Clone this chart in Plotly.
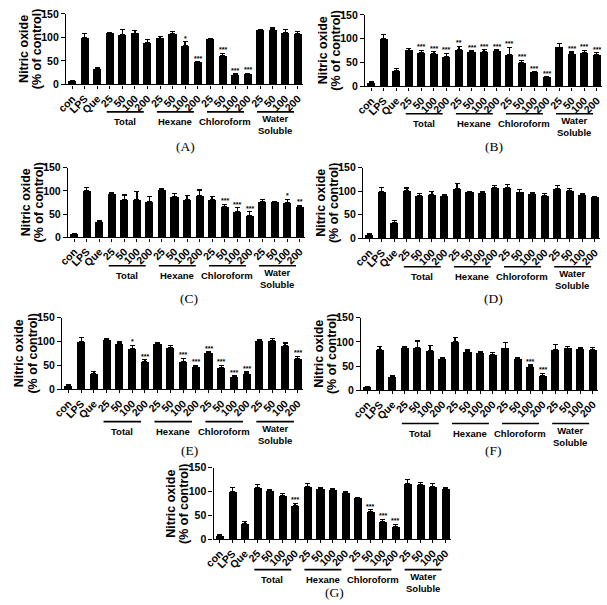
import plotly.graph_objects as go

W, H = 607, 605

categories = ["con", "LPS", "Que"] + ["25", "50", "100", "200"] * 4
groups = ["Total", "Hexane", "Chloroform", "Water<br>Soluble"]
panel_names = ["(A)", "(B)", "(C)", "(D)", "(E)", "(F)", "(G)"]
ytitle_lines = ["Nitric oxide", "(% of control)"]

A_mean = [8, 100, 33, 109, 106, 109, 89, 98, 107, 82, 47, 96, 61, 20, 23, 115, 116, 110, 108]
A_err = [1, 9, 3, 2, 10, 5, 7, 4, 5, 9, 1, 1, 5, 2, 1, 2, 4, 6, 5]
A_sig = ["", "", "", "", "", "", "", "", "", "*", "***", "", "***", "***", "***", "", "", "", ""]

B_mean = [8, 100, 33, 76, 70, 69, 63, 77, 72, 72, 74, 67, 50, 30, 19, 82, 69, 71, 67]
B_err = [1, 9, 4, 4, 6, 4, 6, 7, 2, 5, 3, 15, 5, 1, 1, 8, 3, 5, 4]
B_sig = ["", "", "", "", "***", "***", "***", "**", "***", "***", "***", "***", "***", "***", "***", "", "***", "***", "***"]

C_mean = [8, 100, 33, 94, 81, 82, 76, 102, 87, 82, 90, 82, 66, 56, 47, 76, 77, 74, 67]
C_err = [1, 8, 4, 2, 10, 17, 12, 2, 7, 8, 12, 6, 5, 8, 8, 5, 1, 8, 2]
C_sig = ["", "", "", "", "", "", "", "", "", "", "", "", "***", "***", "***", "", "", "*", "**"]

D_mean = [8, 100, 33, 102, 90, 92, 90, 106, 98, 97, 107, 107, 98, 94, 91, 106, 102, 93, 88]
D_err = [1, 8, 4, 5, 6, 8, 2, 10, 2, 3, 6, 7, 6, 3, 5, 6, 3, 2, 1]
D_sig = [""] * 19

E_mean = [8, 100, 33, 104, 96, 86, 57, 95, 88, 57, 48, 76, 45, 27, 33, 102, 101, 92, 65]
E_err = [1, 8, 4, 3, 3, 6, 5, 2, 4, 8, 2, 2, 5, 1, 3, 2, 5, 5, 4]
E_sig = ["", "", "", "", "", "*", "***", "", "", "***", "***", "***", "***", "***", "***", "", "", "", "***"]

F_mean = [7, 83, 28, 88, 89, 81, 65, 101, 80, 78, 74, 87, 66, 48, 30, 84, 87, 86, 83]
F_err = [1, 8, 3, 2, 13, 12, 2, 8, 3, 2, 4, 12, 2, 4, 5, 10, 3, 3, 5]
F_sig = ["", "", "", "", "", "", "", "", "", "", "", "", "", "***", "***", "", "", "", ""]

G_mean = [8, 100, 33, 109, 101, 92, 71, 111, 106, 103, 97, 87, 57, 37, 27, 116, 115, 111, 106]
G_err = [1, 9, 4, 6, 4, 4, 4, 5, 2, 3, 3, 1, 5, 5, 4, 9, 4, 6, 2]
G_sig = ["", "", "", "", "", "", "***", "", "", "", "", "", "***", "***", "***", "", "", "", ""]

means = [A_mean, B_mean, C_mean, D_mean, E_mean, F_mean, G_mean]
errs = [A_err, B_err, C_err, D_err, E_err, F_err, G_err]
sigs = [A_sig, B_sig, C_sig, D_sig, E_sig, F_sig, G_sig]

# panel geometry in pixels: axis left, axis right, y=150 pixel, y=0 pixel, underline offset, label center x, label y
geom = [
    (57, 298, 8, 80, 28, 178, 143),
    (361, 602, 9, 82, 28, 492, 143),
    (59, 300, 165, 236, 29, 182, 298),
    (359, 600, 165, 237, 29, 492, 298),
    (53, 298, 318, 391, 33, 182, 454),
    (357, 598, 318, 392, 34, 492, 454),
    (207, 448, 471, 544, 31, 330, 598),
]

SANS = "Liberation Sans, Arial, sans-serif"
SERIF = "Liberation Serif, Times New Roman, serif"

def px(x):
    return x / W

def py(y):
    return 1 - y / H

fig = go.Figure()
annotations = []
shapes = []
xs = list(range(len(categories)))

for k in range(7):
    x0, x1, yt, yb, uoff, lx, ly = geom[k]
    sfx = "" if k == 0 else str(k + 1)
    xa = "x" + sfx
    ya = "y" + sfx
    fig.add_trace(go.Bar(
        x=xs, y=means[k], marker=dict(color="black", line=dict(width=0)),
        width=0.64, xaxis=xa, yaxis=ya, showlegend=False,
        error_y=dict(type="data", array=errs[k], arrayminus=[0] * 19, symmetric=False,
                     color="black", thickness=1.2, width=2.5),
    ))
    axis_common = dict(showline=True, linecolor="black", linewidth=1.4, ticks="outside",
                       tickcolor="black", tickwidth=1.2, showgrid=False, zeroline=False)
    fig.layout["xaxis" + sfx] = dict(
        domain=[px(x0), px(x1)], anchor=ya, range=[-0.5, 18.42],
        tickvals=xs, ticktext=categories, tickangle=-45, ticklen=3,
        tickfont=dict(family=SANS, size=10.5, color="black", weight="bold"),
        **axis_common)
    fig.layout["yaxis" + sfx] = dict(
        domain=[py(yb), py(yt)], anchor=xa, range=[0, 150],
        tickvals=[0, 50, 100, 150], ticklen=4,
        tickfont=dict(family=SANS, size=10.5, color="black", weight="bold"),
        **axis_common)
    # y title (two lines, tight spacing)
    for j, line in enumerate(ytitle_lines):
        annotations.append(dict(
            text=line, textangle=-90,
            x=px(x0 - 43 + 13.5 * j), y=py((yt + yb) / 2), xref="paper", yref="paper",
            xanchor="center", yanchor="middle", showarrow=False,
            font=dict(family=SANS, size=12.5, color="black", weight="bold")))
    # significance marks
    for i, s in enumerate(sigs[k]):
        if s:
            annotations.append(dict(
                text=s, x=i, y=means[k][i] + errs[k][i], xref=xa, yref=ya,
                xanchor="center", yanchor="bottom", showarrow=False, yshift=-2,
                font=dict(family=SANS, size=7, color="black", weight="bold")))
    # groups
    uy = yb + uoff
    for g, name in enumerate(groups):
        gs = 3 + 4 * g
        shapes.append(dict(type="line", xref=xa, yref="paper",
                           x0=gs - 0.25, x1=gs + 3 - 0.3, y0=py(uy), y1=py(uy),
                           line=dict(color="black", width=1.6)))
        off = 13 if "<br>" in name else 10
        annotations.append(dict(
            text=name, x=gs + 1.2, y=py(uy + off), xref=xa, yref="paper",
            xanchor="center", yanchor="middle", showarrow=False,
            font=dict(family=SANS, size=9.5, color="black", weight="bold")))
    annotations.append(dict(
        text=panel_names[k], x=px(lx), y=py(ly), xref="paper", yref="paper",
        xanchor="center", yanchor="middle", showarrow=False,
        font=dict(family=SERIF, size=13.5, color="black")))

fig.update_layout(
    width=W, height=H, margin=dict(l=0, r=0, t=0, b=0),
    paper_bgcolor="white", plot_bgcolor="white",
    annotations=annotations, shapes=shapes, bargap=0,
)

fig.write_html("out.html")
